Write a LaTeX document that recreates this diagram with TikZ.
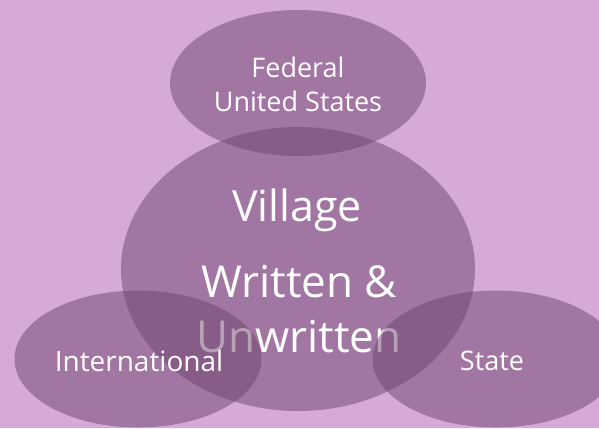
\documentclass[tikz,border=0pt]{standalone}
\usepackage{fontspec}
\setmainfont{Open Sans}
\usepackage{tikz}
\usetikzlibrary{shapes.geometric}
\definecolor{bgpurple}{RGB}{214,169,214}
\definecolor{blobpurple}{RGB}{112,68,112}

\begin{document}
\begin{tikzpicture}[x=1pt,y=-1pt, blob/.style={ellipse,fill=blobpurple,fill opacity=.5,inner sep=0pt},
                    txt/.style={text=white,anchor=base,inner sep=0pt,align=center}]
                      \fill[bgpurple] (0,0) rectangle (599,428);
                      \useasboundingbox (0,0) rectangle (599,428);

                      \node[blob,minimum width=256pt,minimum height=146pt] (federal) at (298,83) {};
                      \node[blob,minimum width=354pt,minimum height=284pt] (village) at (298,269) {};

                      \node[txt,font=\fontsize{43}{50}\selectfont] (vname) at (297,221) {Village};
                      \node[txt,font=\fontsize{44}{55}\selectfont] (vlaw) at (299,352) {Written \&\\Unwritten};

                      \node[blob,minimum width=247pt,minimum height=137pt] (intl) at (138,359) {};
                      \node[blob,minimum width=247pt,minimum height=137pt] (state) at (496,359) {};

                      \node[txt,font=\fontsize{27}{34}\selectfont] (fedlabel) at (298,111) {Federal\\United States};
                      \node[txt,font=\fontsize{28}{34}\selectfont] (intllabel) at (139,371) {International};
                      \node[txt,font=\fontsize{27}{34}\selectfont] (statelabel) at (492,370) {State};
                    \end{tikzpicture}
\end{document}
